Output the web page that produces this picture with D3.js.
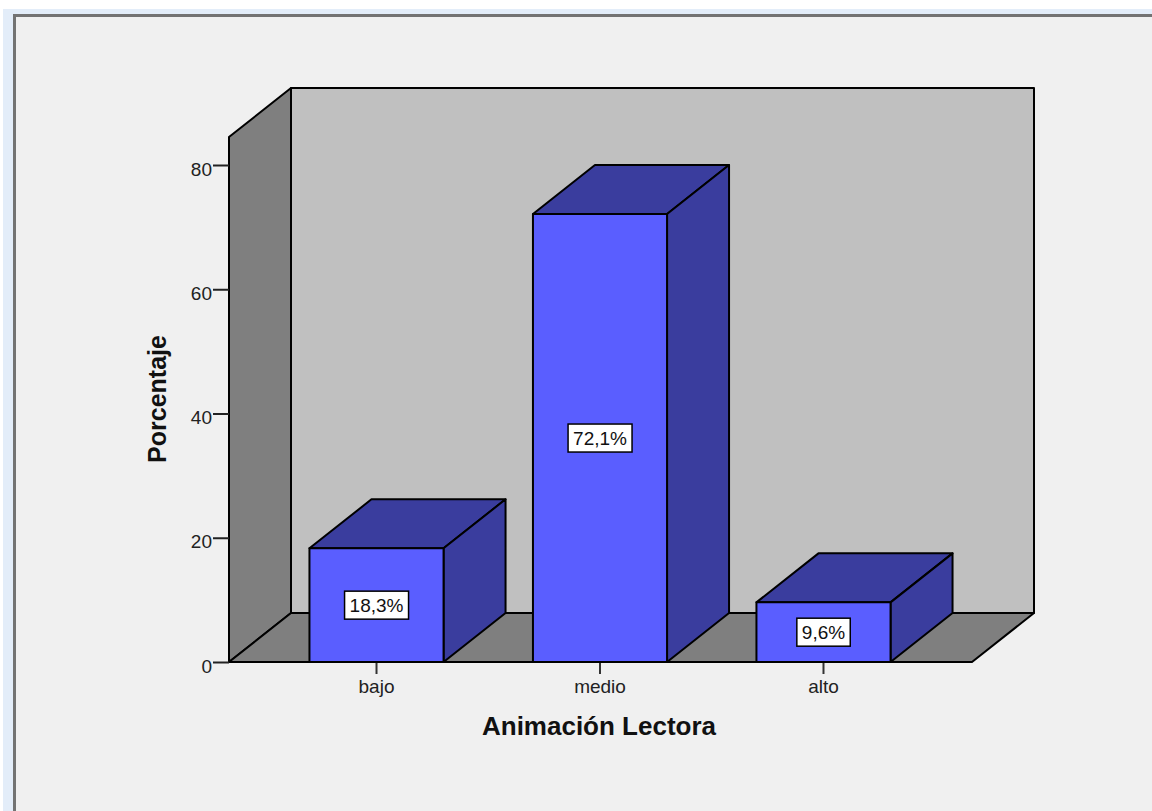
<!DOCTYPE html>
<head>
    <meta charset="utf-8">
    <title>Animación Lectora</title>
    <script src="https://d3js.org/d3.v7.min.js"></script>
    <style>
        body {
            margin: 0;
            background-color: #ffffff;
            font-family: 'Liberation Sans', Arial, sans-serif;
        }
        svg { display: block; }
    </style>
</head>

<body>
<script>
//DATA
var categories = ['bajo', 'medio', 'alto'];
var values = [18.3, 72.1, 9.6];
var yTicks = [0, 20, 40, 60, 80];
var yTitle = 'Porcentaje';
var xTitle = 'Animación Lectora';

//LAYOUT
var W = 1152, H = 811;
var left = 229, right = 972, bottom = 662;
var depth = { x: 62, y: -49 };   // 3D offset of the back plane
var yTop = 84.5;                  // value at the top of the walls

var es = d3.formatLocale({ decimal: ',', thousands: '.', grouping: [3], currency: ['', '€'] });
var pct = d => es.format('.1f')(d) + '%';

//SCALES
var y = d3.scaleLinear().domain([0, 80]).range([bottom, 165]);
var x = d3.scaleBand()
    .domain(categories)
    .range([left, right - 1])
    .paddingInner(0.4)
    .paddingOuter(0.36);

//WINDOW
var svg = d3.select('body')
    .append('svg')
    .attr('width', W)
    .attr('height', H);

// outer frame
svg.append('rect')
    .attr('x', 3).attr('y', 9)
    .attr('width', W).attr('height', H)
    .attr('fill', '#e3edf9');
svg.append('rect')
    .attr('x', 14.5).attr('y', 15.5)
    .attr('width', W + 10).attr('height', H + 10)
    .attr('fill', '#f0f0f0')
    .attr('stroke', '#737373')
    .attr('stroke-width', 3);

var pts = p => p.map(d => d.join(',')).join(' ');
var wallTop = y(yTop);

// back wall
svg.append('polygon')
    .attr('points', pts([[left + depth.x, wallTop + depth.y], [right + depth.x, wallTop + depth.y],
                         [right + depth.x, bottom + depth.y], [left + depth.x, bottom + depth.y]]))
    .attr('fill', '#c0c0c0')
    .attr('stroke', '#000').attr('stroke-width', 2).attr('stroke-linejoin', 'round');

// side wall
svg.append('polygon')
    .attr('points', pts([[left, wallTop], [left + depth.x, wallTop + depth.y],
                         [left + depth.x, bottom + depth.y], [left, bottom]]))
    .attr('fill', '#7f7f7f')
    .attr('stroke', '#000').attr('stroke-width', 2).attr('stroke-linejoin', 'round');

// floor
svg.append('polygon')
    .attr('points', pts([[left, bottom], [left + depth.x, bottom + depth.y],
                         [right + depth.x, bottom + depth.y], [right, bottom]]))
    .attr('fill', '#7f7f7f')
    .attr('stroke', '#000').attr('stroke-width', 2).attr('stroke-linejoin', 'round');

//AXES
var yAxis = svg.append('g')
    .attr('transform', 'translate(' + left + ',0)')
    .call(d3.axisLeft(y).tickValues(yTicks).tickSize(16).tickPadding(1));
yAxis.select('.domain').remove();
yAxis.selectAll('line').attr('stroke', '#222').attr('stroke-width', 2);
yAxis.selectAll('text')
    .attr('dy', '0.53em')
    .attr('fill', '#222')
    .style('font-size', '19px')
    .style('font-family', "'Liberation Sans', Arial, sans-serif");

var xAxis = svg.append('g')
    .attr('transform', 'translate(0,' + bottom + ')')
    .call(d3.axisBottom(x).tickSize(12).tickPadding(6));
xAxis.select('.domain').remove();
xAxis.selectAll('line').attr('stroke', '#333').attr('stroke-width', 2);
xAxis.selectAll('text')
    .attr('fill', '#222')
    .style('font-size', '19px')
    .style('font-family', "'Liberation Sans', Arial, sans-serif");

//BARS
var data = categories.map((c, i) => ({ c: c, v: values[i] }));
var bar = svg.selectAll('.bar')
    .data(data)
    .enter()
    .append('g')
    .attr('class', 'bar');

bar.append('polygon') // top
    .attr('points', d => {
        var x0 = x(d.c), x1 = x0 + x.bandwidth(), yv = y(d.v);
        return pts([[x0, yv], [x0 + depth.x, yv + depth.y], [x1 + depth.x, yv + depth.y], [x1, yv]]);
    })
    .attr('fill', '#3a3d9e');

bar.append('polygon') // side
    .attr('points', d => {
        var x1 = x(d.c) + x.bandwidth(), yv = y(d.v);
        return pts([[x1, yv], [x1 + depth.x, yv + depth.y], [x1 + depth.x, bottom + depth.y], [x1, bottom]]);
    })
    .attr('fill', '#3a3d9e');

bar.append('rect') // front
    .attr('x', d => x(d.c))
    .attr('y', d => y(d.v))
    .attr('width', x.bandwidth())
    .attr('height', d => bottom - y(d.v))
    .attr('fill', '#5a5eff');

bar.selectAll('polygon, rect')
    .attr('stroke', '#000')
    .attr('stroke-width', 2)
    .attr('stroke-linejoin', 'round');

// value labels
bar.each(function(d) {
    var g = d3.select(this);
    var cx = x(d.c) + x.bandwidth() / 2;
    var cy = (y(d.v) + bottom) / 2;
    var box = g.append('rect');
    var t = g.append('text')
        .attr('x', cx)
        .attr('y', cy)
        .attr('dy', '0.36em')
        .attr('text-anchor', 'middle')
        .attr('fill', '#111')
        .style('font-size', '19px')
        .text(pct(d.v));
    var b = t.node().getBBox();
    box.attr('x', b.x - 5)
        .attr('y', cy - 14)
        .attr('width', b.width + 10)
        .attr('height', 28)
        .attr('fill', '#fff')
        .attr('stroke', '#000')
        .attr('stroke-width', 1.5);
});

//TITLES
svg.append('text')
    .attr('transform', 'translate(166,399) rotate(-90)')
    .attr('text-anchor', 'middle')
    .attr('fill', '#111')
    .style('font-size', '25px')
    .style('font-weight', 'bold')
    .text(yTitle);

svg.append('text')
    .attr('x', 599)
    .attr('y', 735)
    .attr('text-anchor', 'middle')
    .attr('fill', '#111')
    .style('font-size', '26px')
    .style('font-weight', 'bold')
    .text(xTitle);
</script>
</body>
